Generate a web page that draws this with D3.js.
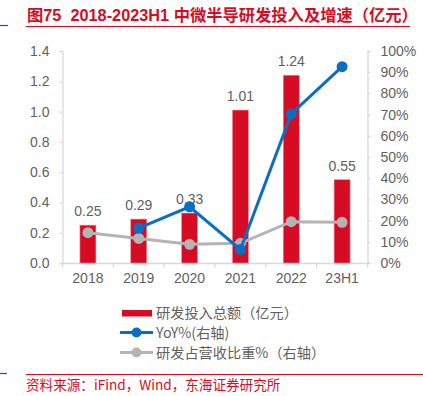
<!DOCTYPE html>
<html>
<head>
<meta charset="utf-8">
<script src="https://cdn.jsdelivr.net/npm/d3@7"></script>
<style>
  body { margin: 0; background: #fff; }
  text { font-family: "Liberation Sans", Arial, "Noto Sans CJK SC", sans-serif; }
</style>
</head>
<body>
<script>
// data
var categories = ["2018", "2019", "2020", "2021", "2022", "23H1"];
var rdTotal = [0.25, 0.29, 0.33, 1.01, 1.24, 0.55];
var yoy = [null, 16.4, 26.5, 6.4, 70.3, 92.6];
var rdShare = [14.3, 11.6, 8.8, 9.3, 19.5, 19.2];
var leftTicks = [0, 0.2, 0.4, 0.6, 0.8, 1.0, 1.2, 1.4];
var rightTicks = [0, 10, 20, 30, 40, 50, 60, 70, 80, 90, 100];
var legendLabels = ["研发投入总额（亿元）", "YoY%(右轴)", "研发占营收比重%（右轴）"];

var width = 423, height = 396;
var red = "#d60c25", blue = "#0a6fc2", grey = "#b4b4b4", axisCol = "#d9d9d9", txt = "#5f5f5f";
var cjk = '"Noto Sans CJK SC", "Liberation Sans", sans-serif';

var svg = d3.select("body").append("svg")
    .attr("width", width)
    .attr("height", height);

// title + rules
svg.append("text")
    .attr("x", 27).attr("y", 20.5)
    .attr("fill", red)
    .attr("font-size", 16.3)
    .attr("font-weight", "bold")
    .style("white-space", "pre")
    .style("font-family", '"Liberation Sans", "Noto Sans CJK SC", sans-serif')
    .text("图75  2018-2023H1 中微半导研发投入及增速（亿元）");
svg.append("line").attr("x1", 0).attr("x2", 8).attr("y1", 25.5).attr("y2", 25.5)
    .attr("stroke", red).attr("stroke-width", 1.2);
svg.append("line").attr("x1", 26).attr("x2", 410).attr("y1", 26.5).attr("y2", 26.5)
    .attr("stroke", red).attr("stroke-width", 1.2);

var x = d3.scaleBand().domain(categories).range([62.5, 367.5]);
var yL = d3.scaleLinear().domain([0, 1.4]).range([263, 51]);
var yR = d3.scaleLinear().domain([0, 100]).range([263, 51]);

// axes
var gL = svg.append("g").attr("transform", "translate(62.5,0)")
    .call(d3.axisLeft(yL).tickValues(leftTicks).tickFormat(d3.format(".1f")).tickSize(3).tickPadding(10));
var gR = svg.append("g").attr("transform", "translate(367.5,0)")
    .call(d3.axisRight(yR).tickValues(rightTicks).tickFormat(function (d) { return d + "%"; }).tickSize(3).tickPadding(10));
var gX = svg.append("g").attr("transform", "translate(0,263.5)")
    .call(d3.axisBottom(x).tickSize(0).tickPadding(10));

[gL, gR, gX].forEach(function (g) {
    g.select(".domain").attr("stroke", axisCol).attr("stroke-width", 1.3);
    g.selectAll(".tick line").attr("stroke", axisCol).attr("stroke-width", 1.3);
    g.selectAll(".tick text").attr("fill", txt).attr("font-size", 14)
        .style("font-family", '"Liberation Sans", Arial, sans-serif');
});
gX.select(".domain").attr("d", "M62.5,0H367.5");

// category boundary ticks on x axis
var bounds = categories.map(function (c) { return x(c); }).concat([x.range()[1]]);
gX.selectAll(".bound").data(bounds).enter().append("line")
    .attr("x1", function (d) { return d; }).attr("x2", function (d) { return d; })
    .attr("y1", 0).attr("y2", 4)
    .attr("stroke", axisCol).attr("stroke-width", 1.3);

// bars
var bw = 16;
svg.selectAll(".bar").data(rdTotal).enter().append("rect")
    .attr("x", function (d, i) { return x(categories[i]) + x.bandwidth() / 2 - bw / 2; })
    .attr("y", function (d) { return yL(d); })
    .attr("width", bw)
    .attr("height", function (d) { return yL(0) - yL(d); })
    .attr("fill", red)
    .attr("stroke", "#ee8f9a").attr("stroke-width", 0.6);

svg.selectAll(".barLabel").data(rdTotal).enter().append("text")
    .attr("x", function (d, i) { return x(categories[i]) + x.bandwidth() / 2; })
    .attr("y", function (d) { return yL(d) - 9; })
    .attr("text-anchor", "middle")
    .attr("fill", txt)
    .attr("font-size", 14)
    .text(function (d) { return d.toFixed(2); });

function cx(i) { return x(categories[i]) + x.bandwidth() / 2; }

// lines
function drawLine(vals, color) {
    var pts = vals.map(function (v, i) { return { i: i, v: v }; }).filter(function (p) { return p.v != null; });
    svg.append("path").datum(pts)
        .attr("fill", "none").attr("stroke", color).attr("stroke-width", 3)
        .attr("d", d3.line().x(function (p) { return cx(p.i); }).y(function (p) { return yR(p.v); }));
    svg.selectAll(null).data(pts).enter().append("circle")
        .attr("cx", function (p) { return cx(p.i); })
        .attr("cy", function (p) { return yR(p.v); })
        .attr("r", 5.5)
        .attr("fill", color);
}
drawLine(rdShare, grey);
drawLine(yoy, blue);

// legend
var lg = svg.append("g");
lg.append("rect").attr("x", 122).attr("y", 310).attr("width", 30).attr("height", 6.5).attr("fill", red);
[[blue, 332.5], [grey, 352.5]].forEach(function (s) {
    lg.append("line").attr("x1", 120).attr("x2", 153).attr("y1", s[1]).attr("y2", s[1])
        .attr("stroke", s[0]).attr("stroke-width", 3);
    lg.append("circle").attr("cx", 136.5).attr("cy", s[1]).attr("r", 5).attr("fill", s[0]);
});
lg.selectAll("text").data(legendLabels).enter().append("text")
    .attr("x", 156)
    .attr("y", function (d, i) { return 318 + i * 20; })
    .attr("fill", txt)
    .attr("font-size", 14.2)
    .style("font-family", cjk)
    .text(function (d) { return d; });

// source
svg.append("line").attr("x1", 0).attr("x2", 7).attr("y1", 373.5).attr("y2", 373.5)
    .attr("stroke", red).attr("stroke-width", 1.2);
svg.append("line").attr("x1", 26).attr("x2", 423).attr("y1", 374.5).attr("y2", 374.5)
    .attr("stroke", red).attr("stroke-width", 1.2);
svg.append("text")
    .attr("x", 26).attr("y", 390)
    .attr("fill", red)
    .attr("font-size", 13.6)
    .style("font-family", cjk)
    .text("资料来源：iFind，Wind，东海证券研究所");
</script>
</body>
</html>
